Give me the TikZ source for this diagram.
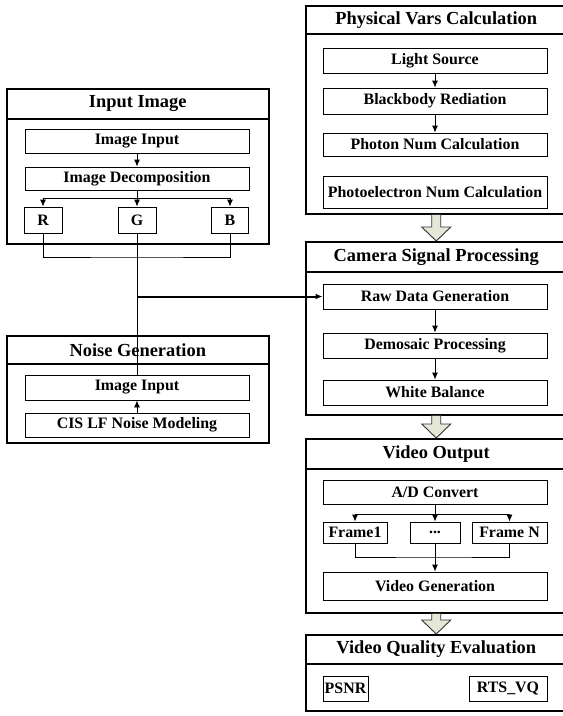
\documentclass[tikz,border=0pt]{standalone}
\usepackage{fontspec}
\setmainfont{Liberation Serif}
\usetikzlibrary{positioning}
\usetikzlibrary{calc}
\usetikzlibrary{arrows.meta}
\definecolor{arrowfill}{RGB}{228,232,214}

\begin{document}
\begin{tikzpicture}[x=1pt,y=-1pt]
    % \draw (0,0) grid (563,716);

  \def\innerw{224pt}
  \tikzset{node common/.style={draw, anchor=center, inner sep=0pt, line width=0.9pt, font=\bfseries\fontsize{15.9}{18}\selectfont}}
  \tikzset{step node/.style={node common, minimum width=\innerw, minimum height=24pt}}
  \tikzset{frame node/.style={draw, anchor=north west, inner sep=0pt, line width=1.5pt}}
  \tikzset{title node/.style={frame node, minimum height=29pt, font=\bfseries\fontsize{18.4}{20}\selectfont}}
  \tikzset{flow/.style={line width=0.9pt, -{Latex[length=7pt,width=6pt]}}}
  \tikzset{big arrow/.style={draw=black!80, line width=0.9pt, fill=arrowfill, line join=miter}}

  \useasboundingbox (0,0) rectangle (563,716);
  \clip (0,0) rectangle (563,716);

  % frames
  \node[frame node, minimum width=262pt, minimum height=155pt] (in frame) at (6,88) {};
  \node[title node, minimum width=262pt, minimum height=30pt] (in title) at (6,88) {Input Image};
  \node[frame node, minimum width=262pt, minimum height=107pt] (noise frame) at (6,335) {};
  \node[title node, minimum width=262pt, minimum height=28pt] (noise title) at (6,335) {Noise Generation};
  \node[frame node, minimum width=261pt, minimum height=208pt] (phys frame) at (305,5) {};
  \node[title node, minimum width=261pt, minimum height=28pt] (phys title) at (305,5) {Physical Vars Calculation};
  \node[frame node, minimum width=261pt, minimum height=173pt] (cam frame) at (305,241) {};
  \node[title node, minimum width=261pt, minimum height=30pt] (cam title) at (305,241) {Camera Signal Processing};
  \node[frame node, minimum width=261pt, minimum height=174pt] (vout frame) at (305,438) {};
  \node[title node, minimum width=261pt, minimum height=30pt] (vout title) at (305,438) {Video Output};
  \node[frame node, minimum width=261pt, minimum height=76pt] (vq frame) at (305,634) {};
  \node[title node, minimum width=261pt] (vq title) at (305,634) {Video Quality Evaluation};

  % input image
  \node[step node] (imgin) at (137,141) {Image Input};
  \node[step node, minimum height=23pt] (imgdec) at (137,178.5) {Image Decomposition};
  \node[node common, minimum width=38pt, minimum height=26pt] (r) at (43,220) {R};
  \node[node common, minimum width=38pt, minimum height=26pt] (g) at (137,220) {G};
  \node[node common, minimum width=37pt, minimum height=26pt] (b) at (230,220) {B};

  % noise generation
  \node[step node, minimum height=25pt] (nimgin) at (137,387.5) {Image Input};
  \node[step node] (cis) at (137,425) {CIS LF Noise Modeling};

  % physical vars
  \node[step node, minimum height=25pt] (light) at (435,60.5) {Light Source};
  \node[step node, minimum height=26pt] (black) at (435,101) {Blackbody Rediation};
  \node[step node, minimum height=23pt] (photon) at (435,144.5) {Photon Num Calculation};
  \node[step node, minimum height=32pt] (photoel) at (435,192) {Photoelectron Num Calculation};

  % camera signal
  \node[step node, minimum height=25pt] (raw) at (435,296.5) {Raw Data Generation};
  \node[step node, minimum height=25pt] (demo) at (435,345.5) {Demosaic Processing};
  \node[step node, minimum height=25pt] (white) at (435,392.5) {White Balance};

  % video output
  \node[step node] (ad) at (435,492) {A/D Convert};
  \node[node common, minimum width=64pt, minimum height=21pt] (f1) at (355,532.5) {Frame1};
  \node[node common, minimum width=50pt, minimum height=21pt] (dots) at (435,532.5) {...};
  \node[node common, minimum width=75pt, minimum height=21pt] (fn) at (509.5,532.5) {Frame N};
  \node[step node, minimum height=28pt] (vgen) at (435,586) {Video Generation};

  % video quality
  \node[node common, minimum width=45pt, minimum height=25pt] (psnr) at (345.5,688.5) {PSNR};
  \node[node common, minimum width=78pt, minimum height=25pt] (rts) at (508,688.5) {RTS\_VQ};

  % links
  \coordinate (split rgb) at (137,198);
  \coordinate (join rgb) at (137,257);
  \draw[flow] (imgin) -- (imgdec);
  \draw[line width=0.9pt] (imgdec) -- (split rgb);
  \draw[flow] (split rgb) -| (r);
  \draw[flow] (split rgb) -- (g);
  \draw[flow] (split rgb) -| (b);
  \draw[line width=0.9pt] (r) |- (join rgb) -| (b);
  \draw[line width=0.9pt] (g) -- (nimgin);
  \draw[flow, line width=2pt] (g |- raw) -- (raw);
  \draw[flow] (cis) -- (nimgin);

  \draw[flow] (light) -- (black);
  \draw[flow] (black) -- (photon);
  \draw[flow] (raw) -- (demo);
  \draw[flow] (demo) -- (white);

  \coordinate (split frames) at (435,514);
  \coordinate (join frames) at (435,557);
  \draw[line width=0.9pt] (ad) -- (split frames);
  \draw[flow] (split frames) -| (f1);
  \draw[flow] (split frames) -- (dots);
  \draw[flow] (split frames) -| (fn);
  \draw[line width=0.9pt] (f1) |- (join frames) -| (fn);
  \draw[flow] (dots) -- (vgen);

  % block arrows between frames
  \foreach \a/\b in {phys/cam, cam/vout, vout/vq}
    \draw[big arrow] ($(\a\space frame.south)+(-4.5,0)$) -- ($(\b\space frame.north)+(-4.5,-14)$) -- ++(-10,0)
      -- (\b\space frame.north) -- ++(14.5,-14) -- ++(-10,0) -- ($(\a\space frame.south)+(4.5,0)$) -- cycle;
\end{tikzpicture}
\end{document}
